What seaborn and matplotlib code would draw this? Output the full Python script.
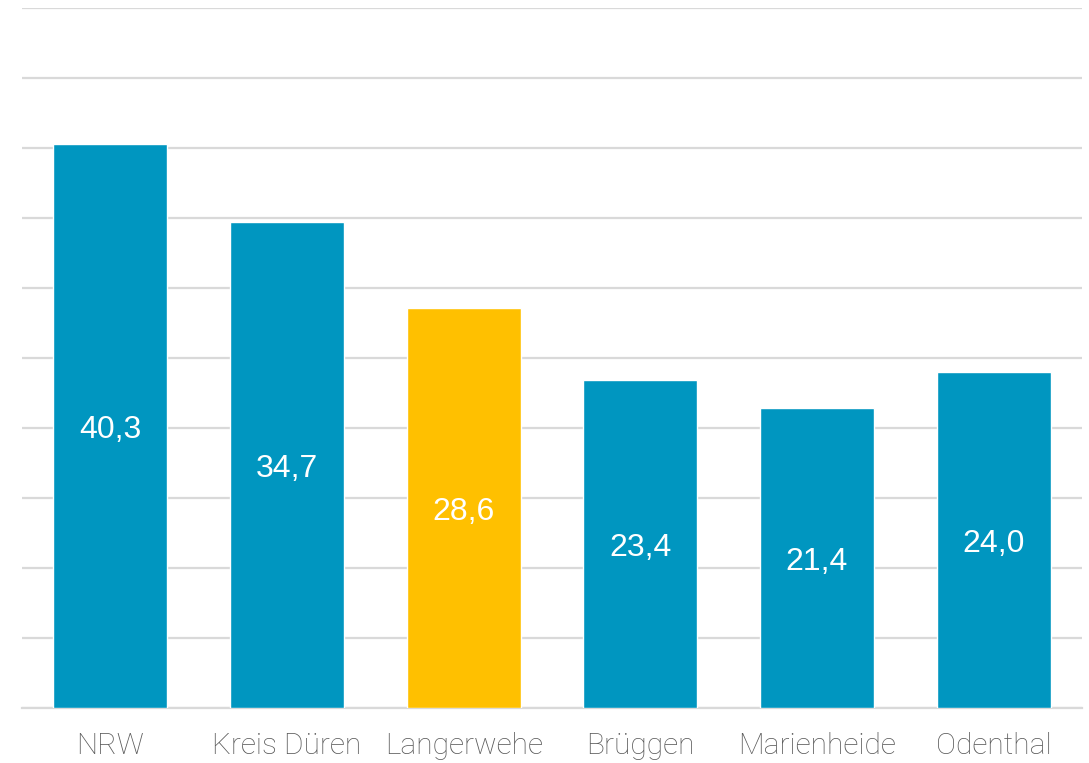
import matplotlib
matplotlib.use("Agg")
import matplotlib.pyplot as plt
import seaborn as sns
import pandas as pd

# Share per municipality (values shown in percent, German decimal comma)
regions = ["NRW", "Kreis Düren", "Langerwehe", "Brüggen", "Marienheide", "Odenthal"]
values = [40.3, 34.7, 28.6, 23.4, 21.4, 24.0]
highlight = "Langerwehe"

BLUE = "#0096C0"
YELLOW = "#FFC000"

df = pd.DataFrame({"region": regions, "value": values})
palette = {r: (YELLOW if r == highlight else BLUE) for r in regions}

sns.set_theme(style="white")
plt.rcParams["font.family"] = ["Roboto", "DejaVu Sans"]

fig = plt.figure(figsize=(10.89, 7.63), dpi=100)
ax = fig.add_axes([22 / 1089, 1 - 708 / 763, 1060 / 1089, 700 / 763])

sns.barplot(data=df, x="region", y="value", hue="region", palette=palette,
            order=regions, width=0.645, saturation=1, legend=False, ax=ax,
            zorder=3)

ax.set_ylim(0, 50)
ax.set_xlim(-0.5, len(regions) - 0.5)
ax.set_yticks(range(0, 51, 5))
ax.yaxis.grid(True, color="#d9d9d9", linewidth=1.6, zorder=0)
ax.set_axisbelow(True)
ax.tick_params(axis="y", left=False, labelleft=False)
ax.tick_params(axis="x", bottom=False, pad=11, labelsize=21.5, colors="#595959")
for lbl in ax.get_xticklabels():
    lbl.set_fontweight("light")
for side in ["top", "left", "right"]:
    ax.spines[side].set_visible(False)
ax.spines["bottom"].set_color("#d9d9d9")
ax.spines["bottom"].set_linewidth(1.6)
ax.set_xlabel("")
ax.set_ylabel("")

for i, v in enumerate(values):
    ax.annotate(f"{v:.1f}".replace(".", ","), xy=(i, v / 2), xytext=(0, -3),
                textcoords="offset points", ha="center", va="center",
                color="white", fontsize=23, family="Liberation Sans", zorder=4)

fig.savefig("out.png", dpi=100)
